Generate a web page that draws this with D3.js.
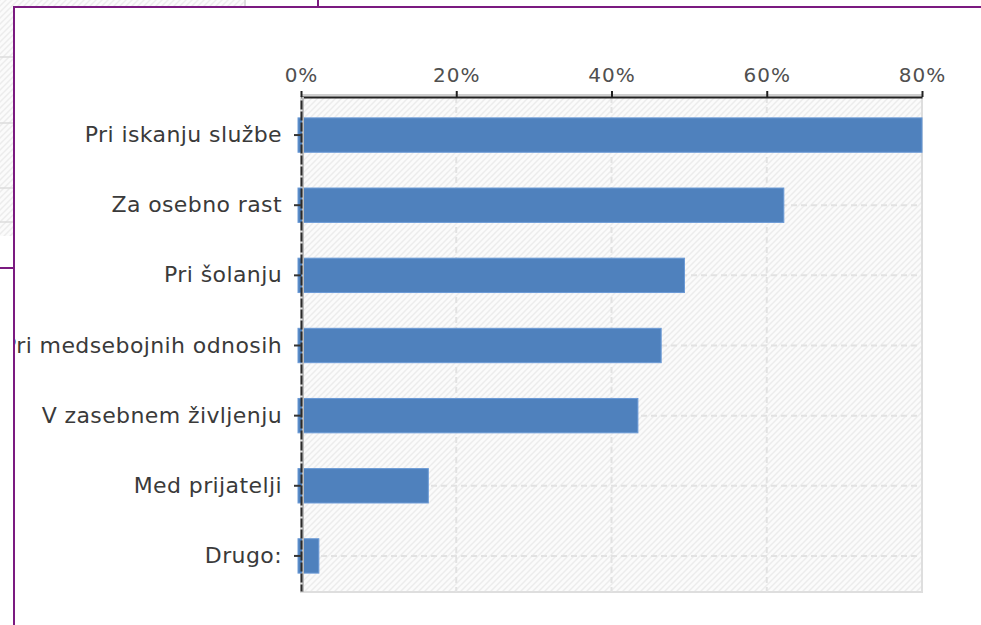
<!DOCTYPE html>
<html>
<head>
<meta charset="utf-8">
<script src="https://cdn.jsdelivr.net/npm/d3@7"></script>
<style>
body { margin: 0; background: #fff; }
svg { display: block; font-family: Verdana, "DejaVu Sans", sans-serif; }
.cat text { font-family: Verdana, "DejaVu Sans", sans-serif; font-size: 22px; fill: #3a3a3a; letter-spacing: 0.4px; }
.pct text { font-family: Verdana, "DejaVu Sans", sans-serif; font-size: 20px; fill: #505050; letter-spacing: 1px; }
.grid line { stroke: #e2e2e2; stroke-width: 2; stroke-dasharray: 6,4; }
.bar { fill: #4f81bd; stroke: #6b9ad6; stroke-width: 1; }
</style>
</head>
<body>
<div id="chart"></div>
<script>
// answers
var categories = ["Pri iskanju službe", "Za osebno rast", "Pri šolanju",
    "Pri medsebojnih odnosih", "V zasebnem življenju", "Med prijatelji", "Drugo:"];
var shares = [0.80, 0.622, 0.494, 0.464, 0.434, 0.164, 0.023];
var pctTicks = [0, 0.2, 0.4, 0.6, 0.8];

var W = 981, H = 625;
var margin = {top: 97, right: 59, bottom: 33, left: 301},
    width = W - margin.left - margin.right,
    height = H - margin.top - margin.bottom;

var svg = d3.select("#chart")
    .append("svg")
        .attr("width", W)
        .attr("height", H);

var defs = svg.append("defs");
var hatch = defs.append("pattern")
    .attr("id", "hatch")
    .attr("patternUnits", "userSpaceOnUse")
    .attr("width", 6)
    .attr("height", 6);
hatch.append("rect").attr("width", 6).attr("height", 6).attr("fill", "#fbfbfb");
hatch.append("path")
    .attr("d", "M-1,1 l2,-2 M0,6 l6,-6 M5,7 l2,-2")
    .attr("stroke", "#ececec")
    .attr("stroke-width", 1.4);

defs.append("clipPath")
    .attr("id", "frameclip")
    .append("rect")
    .attr("x", 15).attr("y", 8)
    .attr("width", W - 15).attr("height", H - 8);

// bits of the window behind the frame
svg.append("rect").attr("x", 0).attr("y", 0).attr("width", 245).attr("height", 7).attr("fill", "url(#hatch)");
svg.append("rect").attr("x", 0).attr("y", 0).attr("width", 13).attr("height", 236).attr("fill", "url(#hatch)");
[57, 123, 188, 222].forEach(function(yy) {
    svg.append("line").attr("x1", 0).attr("x2", 13).attr("y1", yy).attr("y2", yy)
        .attr("stroke", "#dcdcdc").attr("stroke-width", 1.5);
});
svg.append("line").attr("x1", 245).attr("x2", 245).attr("y1", 0).attr("y2", 7)
    .attr("stroke", "#dcdcdc").attr("stroke-width", 2);

var g = svg.append("g")
    .attr("clip-path", "url(#frameclip)")
    .append("g")
    .attr("transform", "translate(" + margin.left + "," + margin.top + ")");

// Set the ranges
var x = d3.scaleLinear().domain([0, 0.8]).range([0, width]);
var y = d3.scaleBand().domain(categories).range([3, height - 1]).paddingInner(0.51).paddingOuter(0.255);

// plot area
g.append("rect")
    .attr("width", width)
    .attr("height", height)
    .attr("fill", "url(#hatch)")
    .attr("stroke", "#dedede")
    .attr("stroke-width", 2);

// grid lines
g.append("g")
    .attr("class", "grid")
    .selectAll("line")
    .data(pctTicks.slice(1, -1))
    .enter().append("line")
    .attr("x1", function(d) { return x(d); })
    .attr("x2", function(d) { return x(d); })
    .attr("y1", 0)
    .attr("y2", height);

g.append("g")
    .attr("class", "grid")
    .selectAll("line")
    .data(categories)
    .enter().append("line")
    .attr("x1", 0)
    .attr("x2", width)
    .attr("y1", function(d) { return y(d) + y.bandwidth() / 2; })
    .attr("y2", function(d) { return y(d) + y.bandwidth() / 2; });

// bars
g.append("g").selectAll(".bar")
    .data(shares)
    .enter().append("rect")
    .attr("class", "bar")
    .attr("x", x(0) - 3)
    .attr("y", function(d, i) { return y(categories[i]); })
    .attr("width", function(d) { return x(d) - x(0) + 3; })
    .attr("height", y.bandwidth());

// top axis
g.append("line")
    .attr("x1", 0).attr("x2", width)
    .attr("y1", -2).attr("y2", -2)
    .attr("stroke", "#cfcfcf").attr("stroke-width", 2);

var xAxis = d3.axisTop(x)
    .tickValues(pctTicks)
    .tickFormat(d3.format(".0%"))
    .tickSize(6)
    .tickPadding(9)
    .tickSizeOuter(0);

var xa = g.append("g")
    .attr("class", "pct")
    .call(xAxis);
xa.select(".domain").attr("stroke", "#222").attr("stroke-width", 2);
xa.selectAll(".tick line").attr("stroke", "#222").attr("stroke-width", 2);

// left axis
g.append("line")
    .attr("x1", 2).attr("x2", 2)
    .attr("y1", 0).attr("y2", height)
    .attr("stroke", "#bdbdbd").attr("stroke-width", 2);

var yAxis = d3.axisLeft(y)
    .tickSize(7)
    .tickPadding(12)
    .tickSizeOuter(0);

var ya = g.append("g")
    .attr("class", "cat")
    .call(yAxis);
ya.select(".domain").attr("stroke", "#2a2a2a").attr("stroke-width", 2).attr("stroke-dasharray", "9,2");
ya.selectAll(".tick line").attr("stroke", "#333").attr("stroke-width", 2);

// purple frame
var purple = "#7b1a80";
svg.append("line").attr("x1", 13).attr("x2", W).attr("y1", 7).attr("y2", 7)
    .attr("stroke", purple).attr("stroke-width", 2);
svg.append("line").attr("x1", 14).attr("x2", 14).attr("y1", 6).attr("y2", H)
    .attr("stroke", purple).attr("stroke-width", 2);
svg.append("line").attr("x1", 318).attr("x2", 318).attr("y1", 0).attr("y2", 7)
    .attr("stroke", purple).attr("stroke-width", 2);
svg.append("line").attr("x1", 0).attr("x2", 14).attr("y1", 268).attr("y2", 268)
    .attr("stroke", purple).attr("stroke-width", 2);
</script>
</body>
</html>
